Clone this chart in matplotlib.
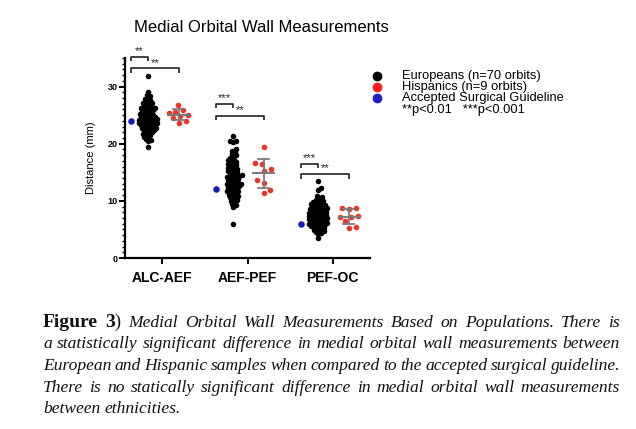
import numpy as np
import matplotlib.pyplot as plt
from matplotlib.lines import Line2D
from matplotlib.ticker import MultipleLocator

plt.rcParams['font.family'] = ['Liberation Sans', 'DejaVu Sans']

categories = ['ALC-AEF', 'AEF-PEF', 'PEF-OC']
guideline = [24.0, 12.0, 6.0]

europeans_alc_aef = [31.9, 29.0, 28.5, 28.3, 28.0, 27.8, 27.6, 27.4, 27.2, 27.0,
                     26.8, 26.6, 26.5, 26.3, 26.1, 26.0, 25.8, 25.7, 25.5, 25.4,
                     25.3, 25.1, 25.0, 24.9, 24.8, 24.7, 24.6, 24.5, 24.4, 24.3,
                     24.2, 24.1, 24.0, 23.9, 23.8, 23.7, 23.6, 23.5, 23.4, 23.3,
                     23.2, 23.1, 23.0, 22.9, 22.8, 22.7, 22.6, 22.5, 22.4, 22.3,
                     22.2, 22.0, 21.9, 21.7, 21.6, 21.4, 21.2, 21.0, 20.8, 20.6,
                     20.4, 19.5, 25.9, 25.2, 24.6, 24.2, 23.8, 23.4, 26.2, 27.1]
europeans_aef_pef = [21.3, 20.5, 20.4, 20.3, 19.0, 18.8, 18.5, 18.2, 18.0, 17.7,
                     17.5, 17.2, 17.0, 16.8, 16.6, 16.4, 16.2, 16.0, 15.8, 15.6,
                     15.4, 15.2, 15.0, 14.8, 14.6, 14.5, 14.3, 14.1, 14.0, 13.8,
                     13.6, 13.5, 13.3, 13.1, 13.0, 12.8, 12.6, 12.5, 12.3, 12.1,
                     12.0, 11.8, 11.6, 11.5, 11.3, 11.1, 11.0, 10.8, 10.6, 10.4,
                     10.2, 10.0, 9.8, 9.5, 9.2, 9.0, 6.0, 14.9, 14.2, 13.7,
                     13.2, 12.7, 12.2, 11.7, 15.5, 16.3, 17.1, 10.9, 14.4, 12.9]
europeans_pef_oc = [13.4, 12.2, 11.9, 10.8, 10.6, 10.4, 10.2, 10.0, 9.8, 9.6,
                    9.5, 9.3, 9.2, 9.0, 8.9, 8.7, 8.6, 8.5, 8.3, 8.2,
                    8.1, 7.9, 7.8, 7.7, 7.5, 7.4, 7.3, 7.1, 7.0, 6.9,
                    6.8, 6.6, 6.5, 6.4, 6.2, 6.1, 6.0, 5.8, 5.7, 5.6,
                    5.4, 5.3, 5.2, 5.0, 4.9, 4.7, 4.5, 4.4, 3.5, 8.0,
                    7.6, 7.2, 6.7, 6.3, 9.1, 8.4, 5.9, 7.0, 7.8, 4.2,
                    8.8, 9.4, 6.6, 5.5, 7.5, 8.6, 6.0, 4.8, 9.9, 7.3]
hispanics_alc_aef = [26.8, 25.9, 25.6, 25.4, 25.1, 24.9, 24.5, 24.0, 23.7]
hispanics_aef_pef = [19.4, 16.5, 16.6, 15.6, 15.3, 13.7, 13.1, 11.9, 11.4]
hispanics_pef_oc = [8.8, 8.7, 8.6, 7.4, 7.2, 7.1, 6.4, 5.5, 5.3]

europeans = [europeans_alc_aef, europeans_aef_pef, europeans_pef_oc]
hispanics = [hispanics_alc_aef, hispanics_aef_pef, hispanics_pef_oc]

sig_small = ['**', '***', '***']
sig_big = ['**', '**', '**']
bracket_small_y = [35.2, 27.0, 16.5]
bracket_big_y = [33.2, 24.9, 14.7]

BLACK = '#000000'
RED = '#ef3326'
BLUE = '#1818bd'
GRAY = '#7a7a7a'

fig = plt.figure(figsize=(6.36, 4.29), dpi=100)
W, H = 636, 429
ax = fig.add_axes([125 / W, 1 - 258 / H, 245 / W, 200 / H])
ax.set_xlim(-0.44, 2.44)
ax.set_ylim(0, 35)

off_blue, off_eur, off_his = -0.37, -0.17, 0.19

px_x = ax.transData.transform([(1, 0)])[0][0] - ax.transData.transform([(0, 0)])[0][0]


def swarm(values, center, d, cap):
    # simple beeswarm in pixel space, alternating sides, limited half-width
    ys = ax.transData.transform(np.column_stack([np.zeros(len(values)), values]))[:, 1]
    xs = np.zeros(len(ys))
    placed = []
    flip = 1
    steps = int(cap / 0.5)
    for i in np.argsort(ys):
        cands = [0.0]
        for j in range(1, steps + 1):
            cands += [flip * j * 0.5, -flip * j * 0.5]
        best, best_d = 0.0, -1
        for c in cands:
            dmin = min([np.hypot(c - px, ys[i] - py) for px, py in placed] or [1e9])
            if dmin >= d:
                best = c
                break
            if dmin > best_d:
                best, best_d = c, dmin
        if best != 0:
            flip = -np.sign(best)
        placed.append((best, ys[i]))
        xs[i] = best
    return center + xs / px_x


def mean_sd(x, vals, wmean, wcap, z, lw=1.4):
    m = np.mean(vals)
    s = np.std(vals, ddof=1)
    ax.plot([x - wmean / 2, x + wmean / 2], [m, m], color=GRAY, lw=lw, zorder=z)
    ax.plot([x, x], [m - s, m + s], color=GRAY, lw=lw * 0.9, zorder=z)
    for v in (m - s, m + s):
        ax.plot([x - wcap / 2, x + wcap / 2], [v, v], color=GRAY, lw=lw * 0.9, zorder=z)


for i in range(len(categories)):
    xb, xe, xh = i + off_blue, i + off_eur, i + off_his
    ax.scatter([xb], [guideline[i]], s=22, color=BLUE, lw=0, zorder=3, clip_on=False)
    ax.scatter(swarm(europeans[i], xe, 3.0, 9), europeans[i], s=16, color=BLACK, lw=0, zorder=3)
    mean_sd(xe, europeans[i], 0.16, 0.08, 2, lw=1.0)
    ax.scatter(swarm(hispanics[i], xh, 7.0, 9.5), hispanics[i], s=16, color=RED, lw=0, zorder=3)
    mean_sd(xh, hispanics[i], 0.24, 0.125, 4)

    # significance brackets
    for y, x1, lab in ((bracket_small_y[i], xe, sig_small[i]), (bracket_big_y[i], xh, sig_big[i])):
        ax.plot([xb, xb, x1, x1], [y - 0.8, y, y, y - 0.8], color='#222222', lw=1.2,
                clip_on=False, solid_capstyle='butt', zorder=5)
        ax.text((xb + x1) / 2, y + 0.1, lab, ha='center', va='bottom', fontsize=8,
                color='#222222')

for side in ('top', 'right'):
    ax.spines[side].set_visible(False)
for side in ('left', 'bottom'):
    ax.spines[side].set_linewidth(1.6)

ax.set_xticks(range(len(categories)))
ax.set_xticklabels(categories, fontsize=10, fontweight='bold')
ax.set_yticks([0, 10, 20, 30])
ax.yaxis.set_minor_locator(MultipleLocator(1))
ax.tick_params(axis='y', which='major', length=4, width=1.4, labelsize=6.5, pad=1.5)
ax.tick_params(axis='y', which='minor', length=2, width=1.0)
ax.tick_params(axis='x', length=4, width=1.4, pad=5)
for t in ax.get_yticklabels():
    t.set_fontweight('bold')
ax.set_ylabel('Distance (mm)', fontsize=8, labelpad=8)

fig.text(261 / W, 1 - 32 / H, 'Medial Orbital Wall Measurements', ha='center',
         va='baseline', fontsize=12)

# legend
legend_rows = [('Europeans (n=70 orbits)', BLACK), ('Hispanics (n=9 orbits)', '#ff1a1a'),
               ('Accepted Surgical Guideline', '#2020cc')]
for k, (lab, col) in enumerate(legend_rows):
    yy = 1 - (76 + 11.2 * k) / H
    fig.add_artist(Line2D([377 / W], [yy], marker='o', ms=6, color=col, lw=0,
                          transform=fig.transFigure))
    fig.text(402 / W, yy, lab, ha='left', va='center', fontsize=9.3)
fig.text(402 / W, 1 - (76 + 11.2 * 3) / H, '**p<0.01   ***p<0.001', ha='left',
         va='center', fontsize=9.3)

# caption, justified
serif = ['Liberation Serif', 'DejaVu Serif']
ital = dict(family=serif, style='italic', fontsize=12.6, color='#111111')
bold = dict(family=serif, weight='bold', fontsize=14, color='#111111')
norm = dict(family=serif, fontsize=13, color='#111111')

caption_lines = [
    [[('Figure', bold)], [('3', bold), (')', norm)]] +
    [[(w, ital)] for w in 'Medial Orbital Wall Measurements Based on Populations. There is'.split()],
    [[(w, ital)] for w in 'a statistically significant difference in medial orbital wall measurements between'.split()],
    [[(w, ital)] for w in 'European and Hispanic samples when compared to the accepted surgical guideline.'.split()],
    [[(w, ital)] for w in 'There is no statically significant difference in medial orbital wall measurements'.split()],
    [[(w, ital)] for w in 'between ethnicities.'.split()],
]
baselines = [327, 348.5, 370, 391.5, 413]
x_left, x_right = 43, 620
renderer = fig.canvas.get_renderer()

for n, (words, yb) in enumerate(zip(caption_lines, baselines)):
    texts = []
    widths = []
    for word in words:
        segs = []
        wsum = 0
        for s, props in word:
            t = fig.text(0, 1 - yb / H, s, va='baseline', ha='left', **props)
            wseg = t.get_window_extent(renderer).width
            segs.append((t, wseg))
            wsum += wseg
        texts.append(segs)
        widths.append(wsum)
    if n < len(caption_lines) - 1:
        gap = (x_right - x_left - sum(widths)) / (len(words) - 1)
    else:
        gap = 4.0
    x = x_left
    for segs, wsum in zip(texts, widths):
        xs = x
        for t, wseg in segs:
            t.set_x(xs / W)
            xs += wseg
        x += wsum + gap

fig.savefig('out.png', dpi=100)
